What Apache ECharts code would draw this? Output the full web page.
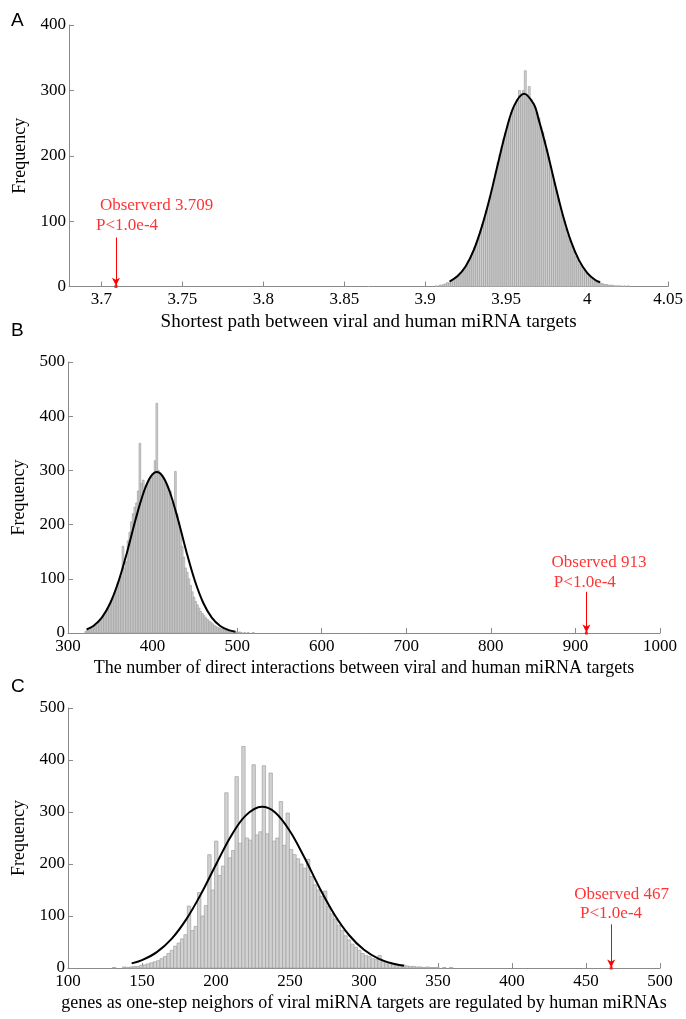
<!DOCTYPE html>
<html><head><meta charset="utf-8">
<script src="https://cdn.jsdelivr.net/npm/echarts@6/dist/echarts.min.js"></script>
<style>html,body{margin:0;padding:0;background:#fff}#c{width:686px;height:1019px}</style>
</head><body><div id="c"></div><script>
// ---------- Panel A ----------
const A_START = 3.906, A_BIN = 0.0012;
const A_COUNTS = [1,0,2,2,3, 4,6,5,8,10, 12,14,17,21,25, 29,33,40,45,52,
  60,66,75,84,95, 104,116,126,138,150, 164,176,190,202,214, 226,236,246,256,266,
  272,278,286,300,292, 300,330,294,306,286, 280,274,266,258,244, 236,224,210,198,184,
  170,158,146,134,120, 110,100,88,78,70, 62,54,46,40,34, 30,25,21,18,15,
  13,11,9,7,6, 5,4,3,3,2, 2,2,1,1,1, 1,0,1,0,1];
const A_FIT_X = [3.915,3.92,3.925,3.93,3.935,3.94,3.945,3.95,3.955,3.961,3.967,3.97,3.975,3.98,3.985,3.99,3.995,4.0,4.005,4.008];
const A_FIT_Y = [7.6,16,31,56,92,137,189,239,277,295,279,256,210,158,109,69,40,21,10,6.5];
const A_XTICKS = [3.7,3.75,3.8,3.85,3.9,3.95,4,4.05];
const A_OBS = 3.709;
const A_TEXT = ['Observerd 3.709', 'P<1.0e-4'];
const A_XNAME = 'Shortest path between viral and human miRNA targets';

// ---------- Panel B ----------
const B_START = 320, B_BIN = 2;
const B_COUNTS = [3,5,4,7,8, 12,14,18,20,26, 30,36,40,46,52, 60,66,74,82,92,
  98,104,160,120,132, 170,186,205,220,232, 240,262,350,276,282, 262,272,278,282,288,
  292,318,424,300,296, 290,284,276,270,262, 262,240,236,298,220, 205,190,160,140,120,
  112,100,88,76,66, 58,52,46,40,36, 32,28,25,22,20, 17,14,12,10,9,
  8,7,6,5,4, 4,3,3,2,2, 1,2,1,0,1, 0,1,0,0,1];
const B_FIT_X = [322,330,340,350,360,370,380,390,398,405,412,420,430,440,450,460,470,480,490,498];
const B_FIT_Y = [6.5,13,28.4,55.4,96.4,150,210,262,289,297,289,262,210,150,96.4,55.4,28.4,13,5.2,2.4];
const B_OBS = 913;
const B_TEXT = ['Observed 913', 'P<1.0e-4'];
const B_XNAME = 'The number of direct interactions between viral and human miRNA targets';

// ---------- Panel C ----------
const C_START = 130, C_BIN = 2.3;
const C_COUNTS = [1,0,0,2,1, 2,3,3,5,6, 8,10,12,14,18, 22,28,34,42,48,
  56,64,119,72,80, 145,100,120,218,150, 244,178,196,337,212, 226,368,240,426,250,
  246,391,256,262,389, 258,375,244,250,320, 236,298,228,218,210, 200,192,209,176,160,
  150,138,148,118,104, 94,82,72,62,54, 46,40,34,28,24, 22,18,16,24,13,
  12,10,8,7,5, 6,4,3,3,2, 2,1,2,1,1, 1,0,1,0,1];
const C_FIT_X = [143,150,160,170,180,190,200,210,220,231,240,250,260,270,280,290,300,310,320,327];
const C_FIT_Y = [8.9,15.2,30.6,56,94,143,199,253,293,310,299,263,211,154,103,63,35,17.7,8.2,4.5];
const C_OBS = 467;
const C_TEXT = ['Observed 467', 'P<1.0e-4'];
const C_XNAME = 'genes as one-step neighors of viral miRNA targets are regulated by human miRNAs';

const Y_NAME = 'Frequency';

// ---------- build ----------
const SERIF = 'Liberation Serif';
const AXIS_GREY = '#8a8a8a';
const RED = '#ff0000';

function bins(start, w, counts){
  return counts.map((c,i)=>[start + i*w, start + (i+1)*w, c]);
}
function histItem(params, api){
  const y = api.value(2);
  if (!y) return null;
  const p0 = api.coord([api.value(0), y]);
  const p1 = api.coord([api.value(1), 0]);
  return {type:'rect', shape:{x:p0[0], y:p0[1], width:p1[0]-p0[0], height:p1[1]-p0[1]},
    style:{fill:'#d2d2d2', stroke:'#a0a0a0', lineWidth:0.7}};
}
function xAxisCfg(idx, min, max, interval, name, custom, nameSize){
  const a = {type:'value', gridIndex:idx, min:min, max:max, name:name, nameLocation:'middle', nameGap:26,
    nameTextStyle:{fontFamily:SERIF, fontSize:nameSize, color:'#000'},
    axisLine:{show:true, lineStyle:{color:AXIS_GREY, width:1}},
    axisTick:{show:true, inside:true, length:5, lineStyle:{color:AXIS_GREY}},
    axisLabel:{fontFamily:SERIF, fontSize:17, color:'#000', margin:5, showMinLabel:true, showMaxLabel:true,
      formatter:v=>String(v)},
    splitLine:{show:false}};
  if (custom){
    a.axisTick.customValues = custom; a.axisLabel.customValues = custom;
  } else { a.interval = interval; }
  return a;
}
function yAxisCfg(idx, max){
  return {type:'value', gridIndex:idx, min:0, max:max, interval:100, name:Y_NAME, nameLocation:'middle', nameGap:36,
    nameTextStyle:{fontFamily:SERIF, fontSize:18, color:'#000'},
    axisLine:{show:true, lineStyle:{color:AXIS_GREY, width:1}},
    axisTick:{show:true, inside:true, length:5, lineStyle:{color:AXIS_GREY}},
    axisLabel:{fontFamily:SERIF, fontSize:17, color:'#000', margin:3, formatter:v=>String(v)},
    splitLine:{show:false}};
}
function panelSeries(idx, start, w, counts, fx, fy, obs, textPos, texts, arrowTop){
  return [
    {type:'custom', xAxisIndex:idx, yAxisIndex:idx, renderItem:histItem, data:bins(start,w,counts),
      encode:{x:[0,1], y:2}, silent:true, animation:false, z:2},
    {type:'line', xAxisIndex:idx, yAxisIndex:idx, data:fx.map((x,i)=>[x, fy[i]]), smooth:0.35,
      showSymbol:false, lineStyle:{color:'#000', width:2}, silent:true, animation:false, z:3},
    {type:'scatter', xAxisIndex:idx, yAxisIndex:idx, symbol:'rect', symbolSize:3,
      itemStyle:{color:RED}, data:[[obs, 0]], silent:true, animation:false, z:4,
      markLine:{silent:true, animation:false, symbol:['none','arrow'], symbolSize:[6,8],
        lineStyle:{color:RED, width:1, type:'solid'}, label:{show:false},
        data:[[{coord:[obs, arrowTop]}, {coord:[obs, 1]}]]}},
    {type:'scatter', xAxisIndex:idx, yAxisIndex:idx, symbolSize:0, silent:true, animation:false, z:5,
      data:texts.map((t,i)=>({value:textPos[i], label:{formatter:t}})),
      label:{show:true, position:[0,0], align:'left', verticalAlign:'middle',
        fontFamily:SERIF, fontSize:17, color:RED}}
  ];
}

const chart = echarts.init(document.getElementById('c'), null, {renderer:'canvas'});
const LETTER = {fontFamily:'Liberation Sans', fontSize:19, fontWeight:'normal', color:'#000'};
chart.setOption({
  backgroundColor:'#fff',
  animation:false,
  title:[
    {text:'A', left:6, top:6, textStyle:LETTER},
    {text:'B', left:6, top:316, textStyle:LETTER},
    {text:'C', left:6, top:672, textStyle:LETTER}
  ],
  grid:[
    {left:69, right:17, top:25, height:261.5},
    {left:68, right:26, top:362, height:271},
    {left:68, right:26, top:708, height:260}
  ],
  xAxis:[
    xAxisCfg(0, 3.68, 4.05, null, A_XNAME, A_XTICKS, 19),
    xAxisCfg(1, 300, 1000, 100, B_XNAME, null, 18),
    xAxisCfg(2, 100, 500, 50, C_XNAME, null, 18)
  ],
  yAxis:[ yAxisCfg(0, 400), yAxisCfg(1, 500), yAxisCfg(2, 500) ],
  series:[].concat(
    panelSeries(0, A_START, A_BIN, A_COUNTS, A_FIT_X, A_FIT_Y, A_OBS, [[3.6991,124],[3.6967,93]], A_TEXT, 75),
    panelSeries(1, B_START, B_BIN, B_COUNTS, B_FIT_X, B_FIT_Y, B_OBS, [[871.7,130],[874.5,93]], B_TEXT, 76),
    panelSeries(2, C_START, C_BIN, C_COUNTS, C_FIT_X, C_FIT_Y, C_OBS, [[442,142],[446,104]], C_TEXT, 84)
  )
});
</script></body></html>
